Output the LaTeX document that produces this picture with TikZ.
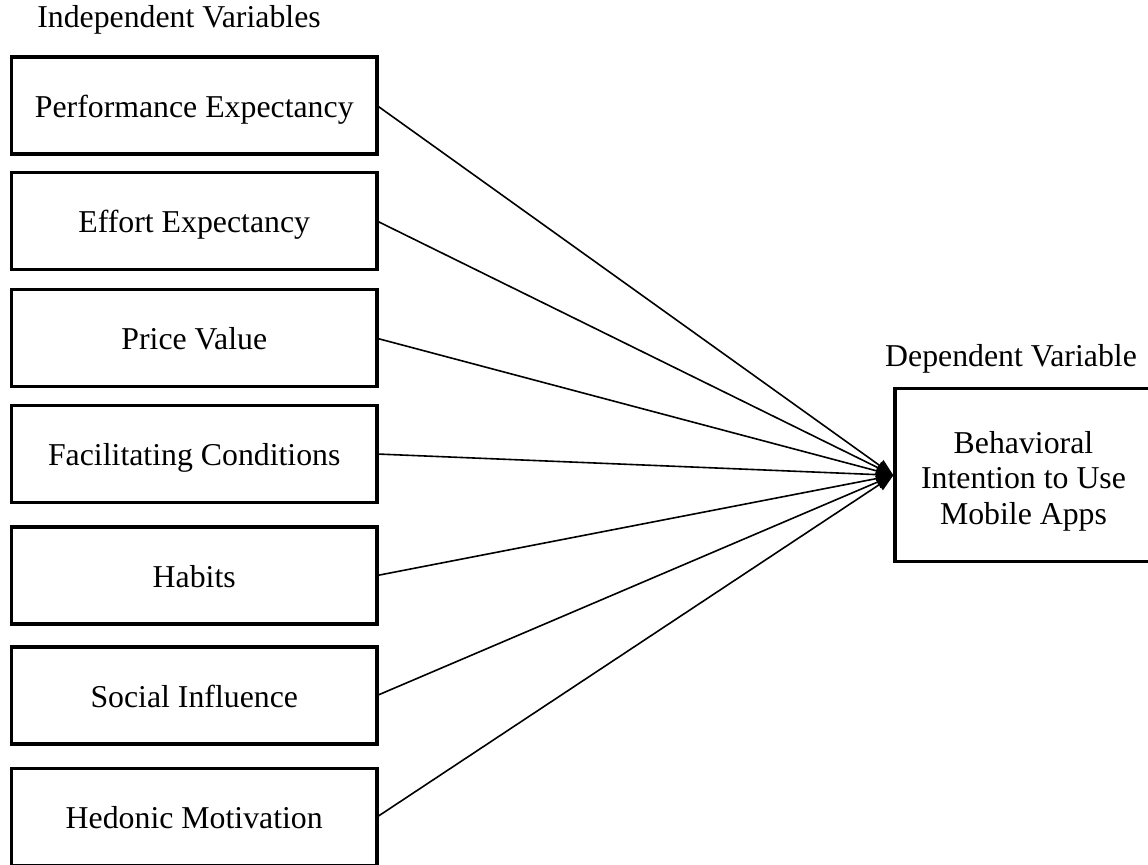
\documentclass[tikz,border=0pt]{standalone}
\usepackage{fontspec}
\setmainfont{Liberation Serif}
\usetikzlibrary{arrows.meta}
\begin{document}
\begin{tikzpicture}[x=0.5pt,y=-0.5pt,
  txt/.style={font=\fontsize{15.9}{17.8}\selectfont},
  ivbox/.style={txt, draw, line width=1.6pt, minimum width=182.75pt, minimum height=48.5pt, inner sep=0pt, outer sep=0pt, text height=11.5pt, text depth=0pt},
  dvbox/.style={draw, line width=1.6pt, minimum width=128.5pt, minimum height=86.5pt, inner sep=0pt, outer sep=0.8pt},
  conn/.style={line width=0.8pt, -{Triangle[length=8.5pt,width=6.5pt]}}
]
\useasboundingbox (0,0) rectangle (1148,864);
\node[txt, anchor=base] (ivl) at (179,27) {Independent Variables};
\node[txt, anchor=base] (dvl) at (1011,366) {Dependent Variable};
\node[ivbox] (pe) at (194.25,105.5) {Performance Expectancy};
\node[ivbox] (ee) at (194.25,221) {Effort Expectancy};
\node[ivbox] (pv) at (194.25,338.3) {Price Value};
\node[ivbox] (fc) at (194.25,454) {Facilitating Conditions};
\node[ivbox] (hb) at (194.25,575.5) {Habits};
\node[ivbox] (si) at (194.25,695.5) {Social Influence};
\node[ivbox] (hm) at (194.25,817) {Hedonic Motivation};
\node[dvbox] (bi) at (1023.5,475.3) {};
\node[txt, align=center] (bit) at ([yshift=-3pt]bi.center) {Behavioral\\Intention to Use\\Mobile Apps};
\foreach \n in {pe,ee,pv,fc,hb,si,hm}{
  \draw[conn] (\n.east) -- (bi.west);
}
\end{tikzpicture}
\end{document}
